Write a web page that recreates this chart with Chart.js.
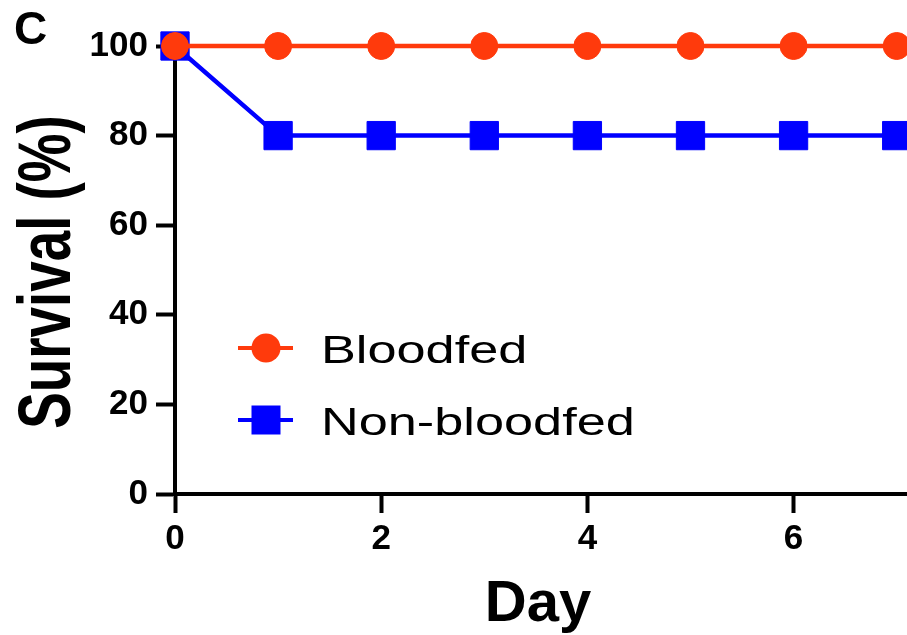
<!DOCTYPE html>
<html><head><meta charset="utf-8">
<script src="https://cdn.jsdelivr.net/npm/chart.js@4.4.1/dist/chart.umd.min.js"></script>
<style>html,body{margin:0;padding:0;background:#fff;}#wrap{width:907px;height:635px;}</style>
</head><body><div id="wrap"><canvas id="c" width="907" height="635"></canvas></div>
<script>
// ---- data ----
const days = [0, 1, 2, 3, 4, 5, 6, 7];
const bloodfed = [100, 100, 100, 100, 100, 100, 100, 100];
const nonBloodfed = [100, 80, 80, 80, 80, 80, 80, 80];
const seriesNames = ['Bloodfed', 'Non-bloodfed'];
const yTickValues = [0, 20, 40, 60, 80, 100];
const xTickValues = [0, 2, 4, 6];
const panelLabel = 'C';
const xTitle = 'Day';
const yTitle = 'Survival (%)';

const RED = '#FF3A0C';
const BLUE = '#0000FF';
const FONT = "'Liberation Sans', Arial, Helvetica, sans-serif";

const decor = {
  id: 'decor',
  afterDraw(chart) {
    const ctx = chart.ctx;
    ctx.save();
    ctx.fillStyle = '#000';
    // panel label
    ctx.save();
    ctx.font = 'bold 46px ' + FONT;
    ctx.textBaseline = 'alphabetic';
    ctx.fillText(panelLabel, 14, 44);
    ctx.restore();
    // y title
    ctx.save();
    ctx.font = 'bold 74px ' + FONT;
    ctx.textAlign = 'center';
    ctx.textBaseline = 'alphabetic';
    ctx.translate(70, 272);
    ctx.rotate(-Math.PI / 2);
    ctx.scale(0.74, 1);
    ctx.fillText(yTitle, 0, 0);
    ctx.restore();
    // x title
    ctx.save();
    ctx.font = 'bold 58px ' + FONT;
    ctx.textAlign = 'center';
    ctx.textBaseline = 'alphabetic';
    ctx.fillText(xTitle, 538, 621);
    ctx.restore();
    // legend
    const rows = [348, 420];
    chart.data.datasets.forEach((ds, i) => {
      const y = rows[i];
      ctx.save();
      ctx.strokeStyle = ds.borderColor;
      ctx.lineWidth = 4;
      ctx.beginPath(); ctx.moveTo(238, y); ctx.lineTo(293, y); ctx.stroke();
      ctx.fillStyle = ds.pointBackgroundColor;
      if (ds.pointStyle === 'circle') {
        ctx.beginPath(); ctx.arc(266, y, 14.5, 0, Math.PI * 2); ctx.fill();
      } else {
        ctx.fillRect(266 - 14.5, y - 14.5, 29, 29);
      }
      ctx.fillStyle = '#000';
      ctx.font = '39px ' + FONT;
      ctx.textBaseline = 'alphabetic';
      ctx.translate(321, y + 15);
      ctx.scale(1.34, 1);
      ctx.fillText(ds.label, 0, 0);
      ctx.restore();
    });
    ctx.restore();
  }
};

const tickFont = { family: FONT, size: 35, weight: 'bold' };

new Chart(document.getElementById('c'), {
  type: 'line',
  data: {
    datasets: [
      {
        label: seriesNames[0],
        data: days.map((d, i) => ({ x: d, y: bloodfed[i] })),
        borderColor: RED, backgroundColor: RED,
        pointBackgroundColor: RED, pointBorderColor: RED,
        pointStyle: 'circle', pointRadius: 13.5, pointBorderWidth: 1,
        borderWidth: 4.5, tension: 0, clip: false
      },
      {
        label: seriesNames[1],
        data: days.map((d, i) => ({ x: d, y: nonBloodfed[i] })),
        borderColor: BLUE, backgroundColor: BLUE,
        pointBackgroundColor: BLUE, pointBorderColor: BLUE,
        pointStyle: 'rect', pointRadius: 20, pointBorderWidth: 1,
        borderWidth: 4.5, tension: 0, clip: false
      }
    ]
  },
  options: {
    responsive: false,
    animation: false,
    devicePixelRatio: 1,
    layout: { autoPadding: false, padding: { top: 46, right: 0, left: 0, bottom: 0 } },
    plugins: { legend: { display: false }, tooltip: { enabled: false } },
    scales: {
      x: {
        type: 'linear', min: 0, max: 7.1,
        afterBuildTicks: s => { s.ticks = xTickValues.map(v => ({ value: v })); },
        afterFit: s => { s.height = 141; s.paddingLeft = 0; s.paddingRight = 0; },
        ticks: { font: tickFont, color: '#000', padding: 5, maxRotation: 0 },
        grid: { drawOnChartArea: false, drawTicks: true, tickLength: 19, tickWidth: 4, tickColor: '#000', color: '#000' },
        border: { display: true, color: '#000', width: 4 },
        title: { display: false }
      },
      y: {
        min: 0, max: 100,
        afterBuildTicks: s => { s.ticks = yTickValues.map(v => ({ value: v })); },
        afterFit: s => { s.width = 175; s.paddingTop = 0; s.paddingBottom = 0; },
        ticks: { font: tickFont, color: '#000', padding: 8 },
        grid: { drawOnChartArea: false, drawTicks: true, tickLength: 19, tickWidth: 4, tickColor: '#000', color: '#000' },
        border: { display: true, color: '#000', width: 4 },
        title: { display: false }
      }
    }
  },
  plugins: [decor]
});
</script>
</body></html>
